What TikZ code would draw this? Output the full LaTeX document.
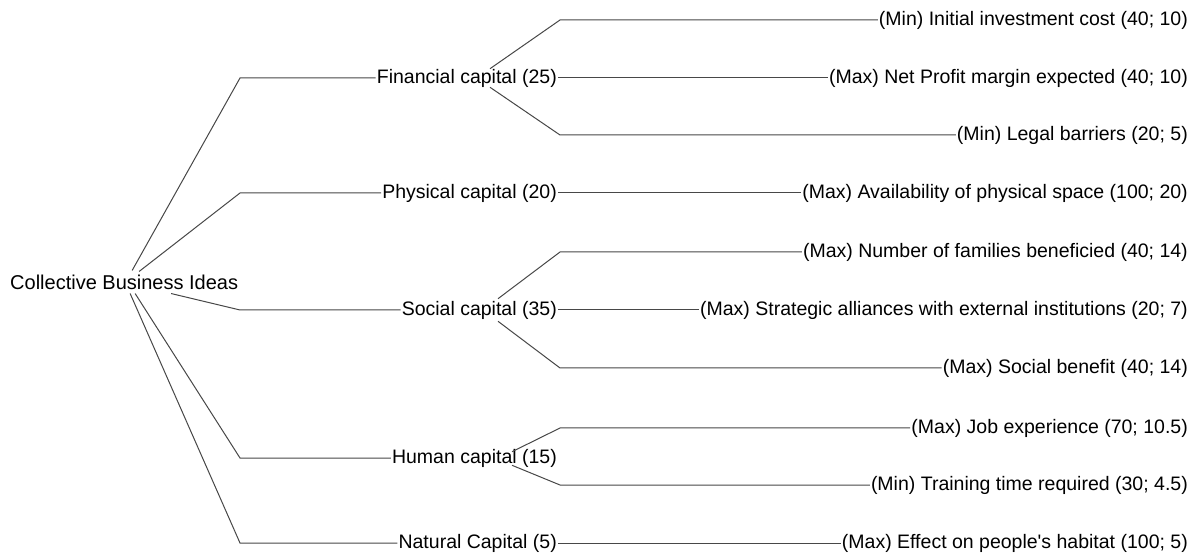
\documentclass[tikz,border=0pt]{standalone}
\usepackage{fontspec}
\newfontfamily\lib{Liberation Sans}
\begin{document}
\begin{tikzpicture}[x=1pt,y=1pt,
  lbl/.style={inner sep=1pt, font=\lib\fontsize{19.5}{22}\selectfont, text=black},
  leaf/.style={lbl, anchor=east},
  mid/.style={lbl, anchor=east},
  conn/.style={draw=black!72, line width=1pt}]
\useasboundingbox (0,0) rectangle (1198,554);
\coordinate (ex) at (240,0);
\coordinate (cx) at (560,0);
% root
\node[lbl, anchor=west, font=\lib\fontsize{20}{23}\selectfont] (root) at (9,272) {Collective Business Ideas};
% second level
\node[mid] (fin) at (558,476) {Financial capital (25)};
\node[mid] (phy) at (558,361) {Physical capital (20)};
\node[mid] (soc) at (558,244) {Social capital (35)};
\node[mid] (hum) at (558,96) {Human capital (15)};
\node[mid] (nat) at (558,11) {Natural Capital (5)};
% leaves
\node[leaf] (l1) at (1189,534) {(Min) Initial investment cost (40; 10)};
\node[leaf] (l2) at (1189,476) {(Max) Net Profit margin expected (40; 10)};
\node[leaf] (l3) at (1189,419) {(Min) Legal barriers (20; 5)};
\node[leaf] (l4) at (1189,361) {(Max) Availability of physical space (100; 20)};
\node[leaf] (l5) at (1189,302) {(Max) Number of families beneficied (40; 14)};
\node[leaf] (l6) at (1189,244) {(Max) Strategic alliances with external institutions (20; 7)};
\node[leaf] (l7) at (1189,186) {(Max) Social benefit (40; 14)};
\node[leaf] (l8) at (1189,126) {(Max) Job experience (70; 10.5)};
\node[leaf] (l9) at (1189,69) {(Min) Training time required (30; 4.5)};
\node[leaf] (l10) at (1189,11) {(Max) Effect on people's habitat (100; 5)};
% root connectors
\draw[conn] ([shift={(8pt,3pt)}]root.north) -- (fin.west -| ex) -- (fin.west);
\draw[conn] ([shift={(15pt,2pt)}]root.north) -- (phy.west -| ex) -- (phy.west);
\draw[conn] ([shift={(47pt,-3pt)}]root.south) -- (soc.west -| ex) -- (soc.west);
\draw[conn] ([shift={(11pt,-3pt)}]root.south) -- (hum.west -| ex) -- (hum.west);
\draw[conn] ([shift={(6pt,-3pt)}]root.south) -- (nat.west -| ex) -- (nat.west);
% financial
\draw[conn] ([shift={(-68pt,-1pt)}]fin.north east) -- (l1.west -| cx) -- (l1.west);
\draw[conn] (fin.east) -- (l2.west);
\draw[conn] ([shift={(-68pt,1pt)}]fin.south east) -- (l3.west -| cx) -- (l3.west);
% physical
\draw[conn] (phy.east) -- (l4.west);
% social
\draw[conn] ([shift={(-60pt,1pt)}]soc.north east) -- (l5.west -| cx) -- (l5.west);
\draw[conn] (soc.east) -- (l6.west);
\draw[conn] ([shift={(-60pt,-1pt)}]soc.south east) -- (l7.west -| cx) -- (l7.west);
% human
\draw[conn] ([shift={(-46pt,-4pt)}]hum.north east) -- (l8.west -| cx) -- (l8.west);
\draw[conn] ([shift={(-46pt,3pt)}]hum.south east) -- (l9.west -| cx) -- (l9.west);
% natural
\draw[conn] (nat.east) -- (l10.west);
\end{tikzpicture}
\end{document}
